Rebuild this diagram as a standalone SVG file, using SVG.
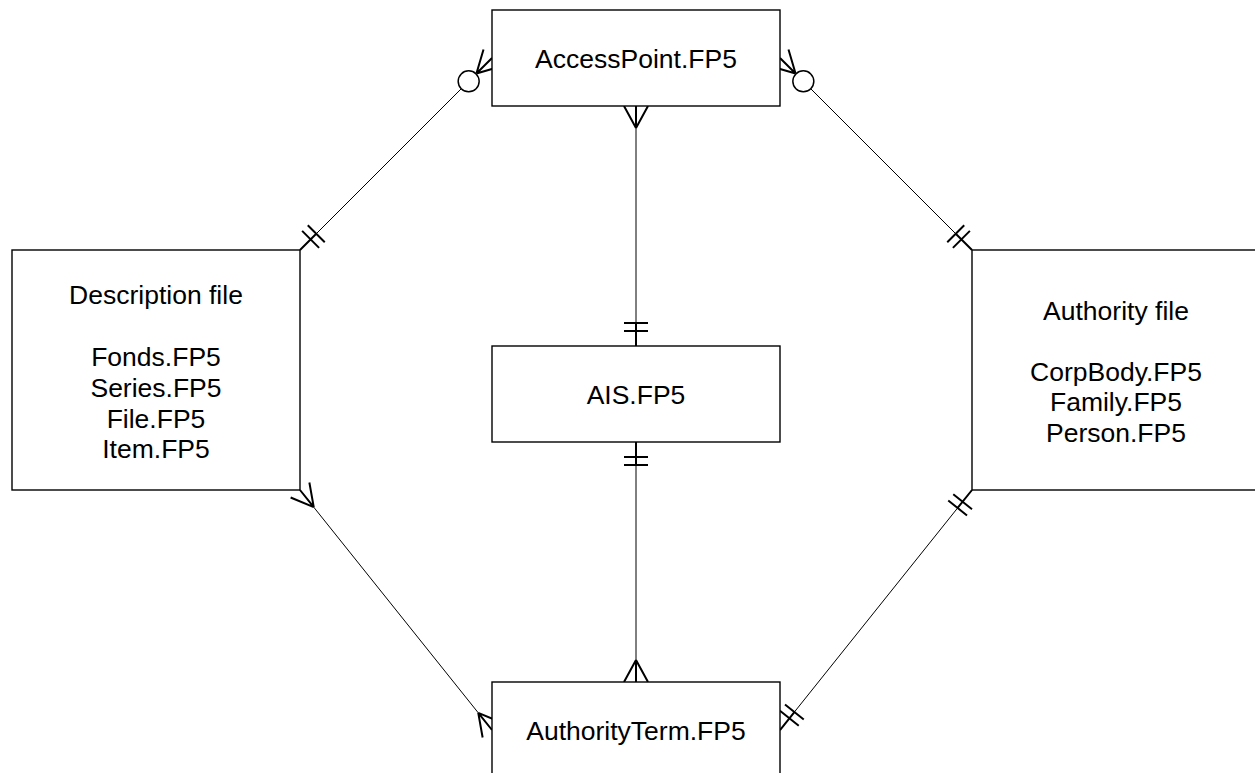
<svg xmlns="http://www.w3.org/2000/svg" width="1255" height="773" viewBox="0 0 1255 773">
<style>
.box{fill:#fff;stroke:#000;stroke-width:1.4}
.t{font-family:"Liberation Sans",Arial,sans-serif;font-size:26.5px;fill:#000;text-anchor:middle}
.ln{fill:none;stroke:#000;stroke-width:1}
.dec{fill:none;stroke:#000;stroke-width:2;stroke-linecap:butt}
.circ{fill:#fff;stroke:#000;stroke-width:1.5}
</style>
<rect width="1255" height="773" fill="#fff"/>
<g id="connectors">
  <!-- Description -> AccessPoint -->
  <g id="c1">
    <line class="ln" x1="300" y1="250" x2="461.24" y2="88.76"/>
    <path class="dec" d="M300,250 L316.26,233.74 M302.12,230.90 L319.10,247.88 M307.77,225.25 L324.75,242.23"/>
    <path class="dec" d="M476.44,73.56 L492,58 M476.44,73.56 L500.49,66.49 M476.44,73.56 L483.51,49.51"/>
    <circle class="circ" cx="468.67" cy="81.33" r="10.5"/>
  </g>
  <!-- Authority -> AccessPoint -->
  <g id="c2">
    <line class="ln" x1="972" y1="250" x2="810.76" y2="88.76"/>
    <path class="dec" d="M972,250 L955.74,233.74 M969.88,230.90 L952.90,247.88 M964.23,225.25 L947.25,242.23"/>
    <path class="dec" d="M795.56,73.56 L780,58 M795.56,73.56 L788.49,49.51 M795.56,73.56 L771.51,66.49"/>
    <circle class="circ" cx="803.33" cy="81.33" r="10.5"/>
  </g>
  <!-- AccessPoint -> AIS -->
  <g id="c3">
    <line class="ln" x1="636" y1="106" x2="636" y2="346"/>
    <path class="dec" d="M636,323 L636,346 M624,331 L648,331 M624,323 L648,323"/>
    <path class="dec" d="M636,128 L636,106 M636,128 L624,106 M636,128 L648,106"/>
  </g>
  <!-- AIS -> AuthorityTerm -->
  <g id="c4">
    <line class="ln" x1="636" y1="442" x2="636" y2="682"/>
    <path class="dec" d="M636,442 L636,465 M624,457 L648,457 M624,465 L648,465"/>
    <path class="dec" d="M636,660 L636,682 M636,660 L624,682 M636,660 L648,682"/>
  </g>
  <!-- Description -> AuthorityTerm -->
  <g id="c5">
    <line class="ln" x1="300" y1="490" x2="492" y2="730"/>
    <path class="dec" d="M313.75,507.18 L300,490 M313.75,507.18 L309.37,482.5 M313.75,507.18 L290.63,497.5"/>
    <path class="dec" d="M478.25,712.82 L492,730 M478.25,712.82 L501.37,722.5 M478.25,712.82 L482.63,737.5"/>
  </g>
  <!-- Authority -> AuthorityTerm -->
  <g id="c6">
    <line class="ln" x1="972" y1="490" x2="780" y2="730"/>
    <path class="dec" d="M972,490 L957.63,507.96 M972.0,509.21 L953.26,494.21 M967.0,515.46 L948.26,500.46"/>
    <path class="dec" d="M780,730 L794.38,712.04 M798.75,725.79 L780.0,710.79 M803.75,719.54 L785.0,704.54"/>
  </g>
</g>
<g id="accesspoint">
  <rect class="box" x="492" y="10" width="288" height="96"/>
  <text class="t" x="636" y="68">AccessPoint.FP5</text>
</g>
<g id="description">
  <rect class="box" x="12" y="250" width="288" height="240"/>
  <text class="t" x="156" y="304">Description file</text>
  <text class="t" x="156" y="365.5">Fonds.FP5</text>
  <text class="t" x="156" y="396.5">Series.FP5</text>
  <text class="t" x="156" y="427.5">File.FP5</text>
  <text class="t" x="156" y="458">Item.FP5</text>
</g>
<g id="ais">
  <rect class="box" x="492" y="346" width="288" height="96"/>
  <text class="t" x="636" y="404">AIS.FP5</text>
</g>
<g id="authority">
  <rect class="box" x="972" y="250" width="288" height="240"/>
  <text class="t" x="1116" y="320">Authority file</text>
  <text class="t" x="1116" y="380.5">CorpBody.FP5</text>
  <text class="t" x="1116" y="411">Family.FP5</text>
  <text class="t" x="1116" y="441.5">Person.FP5</text>
</g>
<g id="authorityterm">
  <rect class="box" x="492" y="682" width="288" height="96"/>
  <text class="t" x="636" y="740">AuthorityTerm.FP5</text>
</g>
</svg>
